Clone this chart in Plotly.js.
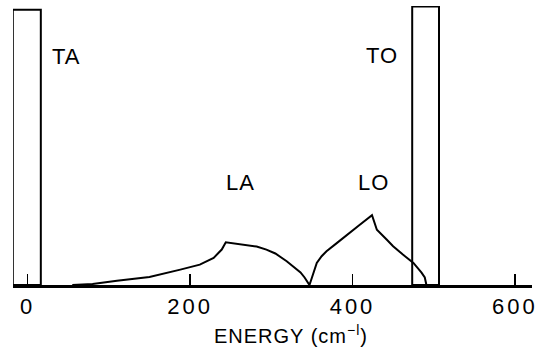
<!DOCTYPE html>
<html>
<head>
<meta charset="utf-8">
<script src="https://cdn.plot.ly/plotly-3.0.1.min.js"></script>
<style>
  html, body { margin: 0; padding: 0; background: #fff; }
  #chart { width: 539px; height: 349px; }
  .xtick text { letter-spacing: 3px; }
  .annotation-text { letter-spacing: 1px; }
</style>
</head>
<body>
<div id="chart"></div>
<script>
// Transverse modes drawn as tall open boxes
const modeCenters = [-1, 490];      // cm^-1
const modeWidths = [34.5, 33];      // cm^-1
const modeHeights = [98.7, 99.8];   // arbitrary units

// Longitudinal density of states (LA + LO branches)
const dosEnergy = [55, 80, 110, 150, 188, 212, 229, 239, 244, 258, 270, 282, 294, 305, 319, 330, 336, 341, 347,
                   350, 356, 362, 368, 381, 393, 409, 424, 430, 442, 450, 462, 475, 485, 489, 491];
const dosValue  = [0, 0.4, 1.5, 2.9, 5.5, 7.3, 9.7, 12.7, 15.3, 14.8, 14.5, 13.8, 12.7, 11.3, 8.5, 6.1, 4.5, 2.7, 0,
                   2.6, 7.9, 10.3, 12.1, 15.1, 18.0, 21.6, 25.0, 19.8, 16.3, 13.9, 10.9, 7.9, 4.4, 2.7, 0];

// Branch labels
const labelText = ['TA', 'TO', 'LA', 'LO'];
const labelX = [47.6, 436, 262, 426];
const labelY = [82, 82.3, 36.6, 36.9];

// Axis ticks
const tickVals = [0, 200, 400, 600];
const tickText = ['0', '200', '400', '600'];

const FONT = 'Liberation Sans, Arial, Helvetica, sans-serif';

const traces = [
  {
    type: 'bar',
    x: modeCenters,
    y: modeHeights,
    width: modeWidths,
    base: 0,
    marker: { color: 'rgba(0,0,0,0)', line: { color: '#000', width: 2 } },
    hoverinfo: 'x+y'
  },
  {
    type: 'scatter',
    mode: 'lines',
    x: dosEnergy,
    y: dosValue,
    line: { color: '#000', width: 2 },
    hoverinfo: 'x+y'
  }
];

const annotations = labelText.map((t, i) => ({
  text: t, x: labelX[i], y: labelY[i], xref: 'x', yref: 'y',
  showarrow: false, xanchor: 'center', yanchor: 'middle',
  font: { family: FONT, size: 22, color: '#000' }
}));

annotations.push({
  text: 'ENERGY (cm<sup>\u2212l</sup>)',
  xref: 'paper', yref: 'paper', x: 0.5356, y: -0.179,
  xanchor: 'center', yanchor: 'middle', showarrow: false,
  font: { family: FONT, size: 20, color: '#000' }
});

const layout = {
  width: 539, height: 349,
  margin: { l: 13, r: 7, t: 5.5, b: 63.5 },
  paper_bgcolor: '#fff', plot_bgcolor: '#fff',
  showlegend: false,
  xaxis: {
    range: [-18, 621],
    showgrid: false, zeroline: false,
    showline: true, linecolor: '#000', linewidth: 2.5,
    ticks: 'inside', ticklen: 11, tickwidth: 1.5, tickcolor: '#000',
    tickvals: tickVals, ticktext: tickText,
    tickfont: { family: FONT, size: 22, color: '#000' },
    fixedrange: true
  },
  yaxis: {
    range: [0, 100],
    visible: false, fixedrange: true
  },
  annotations: annotations
};

Plotly.newPlot('chart', traces, layout, { displayModeBar: false, staticPlot: true });
</script>
</body>
</html>
